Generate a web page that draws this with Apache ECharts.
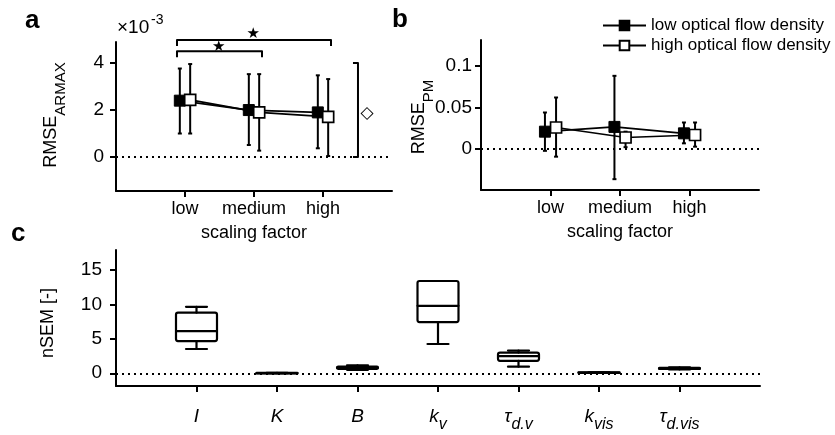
<!DOCTYPE html>
<html><head><meta charset="utf-8">
<script src="https://cdn.jsdelivr.net/npm/echarts@6/dist/echarts.min.js"></script>
<style>html,body{margin:0;padding:0;background:#fff}#c{width:835px;height:435px}</style>
</head><body><div id="c"></div>
<script>
// ---------- data ----------
const scaleCats = ['low', 'medium', 'high'];
const seriesNames = ['low optical flow density', 'high optical flow density'];
// panel a : RMSE_ARMAX (units of 1e-3)
const armaxLowMean  = [2.40, 2.00, 1.90];
const armaxLowMin   = [1.00, 0.51, 0.37];
const armaxLowMax   = [3.77, 3.53, 3.48];
const armaxHighMean = [2.43, 1.90, 1.71];
const armaxHighMin  = [1.00, 0.27, 0.04];
const armaxHighMax  = [3.96, 3.53, 3.32];
const armaxTicks = [0, 2, 4];
// panel b : RMSE_PM
const pmLowMean  = [0.021, 0.0267, 0.019];
const pmLowMin   = [-0.002, -0.036, 0.007];
const pmLowMax   = [0.044, 0.088, 0.032];
const pmHighMean = [0.026, 0.014, 0.017];
const pmHighMin  = [-0.009, 0.0024, 0.003];
const pmHighMax  = [0.062, 0.021, 0.032];
const pmTicks = [0, 0.05, 0.1];
// panel c : nSEM box plots
const paramSymbols = ['I', 'K', 'B', 'k', 'τ', 'k', 'τ'];
const paramSubs    = ['', '', '', 'v', 'd.v', 'vis', 'd.vis'];
const nsemMin = [3.52, 0.00, 0.50, 4.25, 0.96, 0.05, 0.55];
const nsemQ1  = [4.68, 0.02, 0.65, 7.43, 1.80, 0.08, 0.62];
const nsemMed = [6.13, 0.03, 0.80, 9.80, 2.50, 0.10, 0.70];
const nsemQ3  = [8.80, 0.05, 0.95, 13.40, 3.00, 0.12, 0.78];
const nsemMax = [9.65, 0.06, 1.15, 13.40, 3.30, 0.15, 0.85];
const nsemTicks = [0, 5, 10, 15];

// ---------- helpers ----------
const FONT = '"Liberation Sans", Arial, Helvetica, sans-serif';
const BLACK = '#000';
const chart = echarts.init(document.getElementById('c'), null, {renderer: 'canvas'});

function errRender(params, api) {
  const x = api.value(0);
  const p1 = api.coord([x, api.value(1)]);
  const p2 = api.coord([x, api.value(2)]);
  const c = 2;
  const st = {stroke: BLACK, lineWidth: 2};
  return {type: 'group', children: [
    {type: 'line', shape: {x1: p1[0], y1: p1[1], x2: p2[0], y2: p2[1]}, style: st},
    {type: 'line', shape: {x1: p1[0] - c, y1: p1[1], x2: p1[0] + c, y2: p1[1]}, style: st},
    {type: 'line', shape: {x1: p2[0] - c, y1: p2[1], x2: p2[0] + c, y2: p2[1]}, style: st}
  ]};
}
function errSeries(ax, mins, maxs, off) {
  return {type: 'custom', xAxisIndex: ax, yAxisIndex: ax, silent: true, z: 2,
    renderItem: errRender, encode: {x: 0, y: [1, 2]},
    data: mins.map((lo, i) => [i + 1 + off, lo, maxs[i]])};
}
function lineSeries(name, ax, means, off, filled, zeroLine) {
  const s = {type: 'line', name: name, xAxisIndex: ax, yAxisIndex: ax, z: filled ? 3 : 4,
    symbol: 'rect', symbolSize: 11, showSymbol: true, animation: false,
    lineStyle: {color: BLACK, width: 1.7},
    itemStyle: filled ? {color: BLACK, borderColor: BLACK, borderWidth: 1}
                      : {color: '#fff', borderColor: BLACK, borderWidth: 1.7},
    data: means.map((m, i) => [i + 1 + off, m])};
  if (zeroLine) s.markLine = zeroMark();
  return s;
}
function zeroMark() {
  return {silent: true, symbol: 'none', label: {show: false}, animation: false,
    lineStyle: {color: BLACK, width: 2, type: [2, 4]}, data: [{yAxis: 0}]};
}
const axisLineStyle = {show: true, onZero: false, lineStyle: {color: BLACK, width: 2}};
const tickStyle = {color: BLACK, width: 2};
function xAxisCfg(grid, max, ticks, fmt, name, labelMargin, rich) {
  const a = {type: 'value', gridIndex: grid, min: 0, max: max,
    axisLine: axisLineStyle, splitLine: {show: false},
    axisTick: {show: true, customValues: ticks, length: 6, lineStyle: tickStyle},
    axisLabel: {customValues: ticks, formatter: fmt, color: BLACK, fontSize: 18,
      fontFamily: FONT, margin: labelMargin, rich: rich}};
  if (name) {
    a.name = name; a.nameLocation = 'middle'; a.nameGap = 33;
    a.nameTextStyle = {color: BLACK, fontSize: 18, fontFamily: FONT};
  }
  return a;
}
function yAxisCfg(grid, min, max, ticks, margin, size) {
  return {type: 'value', gridIndex: grid, min: min, max: max,
    axisLine: axisLineStyle, splitLine: {show: false},
    axisTick: {show: true, customValues: ticks, length: 6, lineStyle: tickStyle},
    axisLabel: {customValues: ticks, formatter: v => String(v), color: BLACK,
      fontSize: size, fontFamily: FONT, margin: margin}};
}
function boxRender(params, api) {
  const x = api.value(0);
  const pts = [1, 2, 3, 4, 5].map(k => api.coord([x, api.value(k)]));
  const cx = pts[0][0];
  const hw = 20.5, cw = 10.5;
  const yMin = pts[0][1], yQ1 = pts[1][1], yMed = pts[2][1], yQ3 = pts[3][1], yMax = pts[4][1];
  const st = {stroke: BLACK, fill: null, lineWidth: 2.2, lineJoin: 'round', lineCap: 'round'};
  return {type: 'group', children: [
    {type: 'line', shape: {x1: cx, y1: yQ1, x2: cx, y2: yMin}, style: st},
    {type: 'line', shape: {x1: cx, y1: yQ3, x2: cx, y2: yMax}, style: st},
    {type: 'line', shape: {x1: cx - cw, y1: yMin, x2: cx + cw, y2: yMin}, style: st},
    {type: 'line', shape: {x1: cx - cw, y1: yMax, x2: cx + cw, y2: yMax}, style: st},
    {type: 'rect', shape: {x: cx - hw, y: yQ3, width: 2 * hw, height: Math.max(yQ1 - yQ3, 0.5), r: 2}, style: st},
    {type: 'line', shape: {x1: cx - hw, y1: yMed, x2: cx + hw, y2: yMed}, style: st}
  ]};
}
function annotRender(params, api) {
  const st = {stroke: BLACK, fill: null, lineWidth: 2, lineJoin: 'round'};
  const kids = [];
  // significance brackets (low vs medium, low vs high)
  [[1, 2, 4.51, 4.70], [1, 3, 4.98, 5.22]].forEach(b => {
    const pl = api.coord([b[0] - 0.116, b[2]]);
    const pr = api.coord([b[1] + 0.116, b[2]]);
    const d = 6;
    kids.push({type: 'polyline', shape: {points: [[pl[0], pl[1] + d], [pl[0], pl[1]], [pr[0], pr[1]], [pr[0], pr[1] + d]]}, style: st});
    const ps = api.coord([(b[0] + b[1]) / 2 - 0.01, b[3]]);
    kids.push({type: 'text', x: ps[0], y: ps[1], style: {text: '★', fontSize: 15,
      fontFamily: '"DejaVu Sans", sans-serif', fill: BLACK, align: 'center', verticalAlign: 'middle'}});
  });
  // overall-effect bracket with diamond
  const t = api.coord([3.507, 4.0]);
  const bt = api.coord([3.507, 0.0]);
  kids.push({type: 'polyline', shape: {points: [[t[0] - 5, t[1]], [t[0], t[1]], [bt[0], bt[1]], [bt[0] - 5, bt[1]]]}, style: st});
  const dm = api.coord([3.64, 1.87]);
  kids.push({type: 'text', x: dm[0], y: dm[1], style: {text: '◇', fontSize: 17,
    fontFamily: '"DejaVu Sans", sans-serif', fill: BLACK, align: 'center', verticalAlign: 'middle'}});
  return {type: 'group', children: kids};
}
const subRich = {
  i: {fontStyle: 'italic', fontSize: 19, fontFamily: FONT, color: BLACK, verticalAlign: 'top', lineHeight: 26},
  s: {fontStyle: 'italic', fontSize: 16, fontFamily: FONT, color: BLACK, verticalAlign: 'bottom', lineHeight: 26}
};
function paramFmt(v) {
  const i = v - 1;
  return '{i|' + paramSymbols[i] + '}' + (paramSubs[i] ? '{s|' + paramSubs[i] + '}' : '');
}
const titleRich = {
  m: {fontSize: 18, fontFamily: FONT, fill: BLACK, verticalAlign: 'top', lineHeight: 26},
  s: {fontSize: 15, fontFamily: FONT, fill: BLACK, verticalAlign: 'bottom', lineHeight: 26}
};
function rotTitle(x, y, text, rich) {
  return {type: 'text', x: x, y: y, rotation: Math.PI / 2,
    style: {text: text, rich: rich, fill: BLACK, font: '18px ' + FONT, align: 'center', verticalAlign: 'middle'}};
}
function label(x, y, text, size, bold) {
  return {type: 'text', x: x, y: y, style: {text: text, fill: BLACK,
    font: (bold ? 'bold ' : '') + size + 'px ' + FONT, align: 'left', verticalAlign: 'middle'}};
}

const option = {
  backgroundColor: '#fff',
  animation: false,
  textStyle: {fontFamily: FONT, color: BLACK},
  grid: [
    {left: 116, top: 42, width: 276, height: 149, containLabel: false, outerBoundsMode: 'none'},
    {left: 481, top: 40, width: 278, height: 150, containLabel: false, outerBoundsMode: 'none'},
    {left: 116, top: 250, width: 644, height: 136, containLabel: false, outerBoundsMode: 'none'}
  ],
  xAxis: [
    xAxisCfg(0, 4, [1, 2, 3], v => scaleCats[v - 1], 'scaling factor', 9),
    xAxisCfg(1, 4, [1, 2, 3], v => scaleCats[v - 1], 'scaling factor', 9),
    xAxisCfg(2, 8, [1, 2, 3, 4, 5, 6, 7], paramFmt, null, 21, subRich)
  ],
  yAxis: [
    yAxisCfg(0, -1.45, 4.9, armaxTicks, 12, 19),
    yAxisCfg(1, -0.049, 0.131, pmTicks, 9, 19),
    yAxisCfg(2, -1.85, 17.9, nsemTicks, 14, 19)
  ],
  legend: {
    left: 597, top: 12, orient: 'vertical', itemWidth: 43, itemHeight: 12, itemGap: 3,
    textStyle: {fontSize: 17, fontFamily: FONT, color: BLACK},
    data: seriesNames
  },
  graphic: [
    label(25, 21, 'a', 26, true),
    label(392, 20, 'b', 26, true),
    label(11, 234, 'c', 26, true),
    {type: 'text', x: 117, y: 28, style: {text: '×10', fill: BLACK, font: '19px ' + FONT, align: 'left', verticalAlign: 'middle'}},
    {type: 'text', x: 151, y: 20, style: {text: '-3', fill: BLACK, font: '14px ' + FONT, align: 'left', verticalAlign: 'middle'}},
    rotTitle(55, 115, '{m|RMSE}{s|ARMAX}', titleRich),
    rotTitle(423, 117, '{m|RMSE}{s|PM}', titleRich),
    rotTitle(48, 323, 'nSEM [-]', null)
  ],
  series: [
    errSeries(0, armaxLowMin, armaxLowMax, -0.075),
    errSeries(0, armaxHighMin, armaxHighMax, 0.075),
    lineSeries(seriesNames[0], 0, armaxLowMean, -0.075, true, true),
    lineSeries(seriesNames[1], 0, armaxHighMean, 0.075, false, false),
    errSeries(1, pmLowMin, pmLowMax, -0.08),
    errSeries(1, pmHighMin, pmHighMax, 0.08),
    lineSeries(seriesNames[0], 1, pmLowMean, -0.08, true, true),
    lineSeries(seriesNames[1], 1, pmHighMean, 0.08, false, false),
    {type: 'custom', xAxisIndex: 2, yAxisIndex: 2, silent: true, z: 3,
      renderItem: boxRender, encode: {x: 0, y: [1, 2, 3, 4, 5]},
      data: nsemMin.map((m, i) => [i + 1, m, nsemQ1[i], nsemMed[i], nsemQ3[i], nsemMax[i]]),
      markLine: zeroMark()},
    {type: 'custom', xAxisIndex: 0, yAxisIndex: 0, silent: true, z: 5,
      renderItem: annotRender, data: [[0, 0]]}
  ]
};
chart.setOption(option);
</script>
</body></html>
